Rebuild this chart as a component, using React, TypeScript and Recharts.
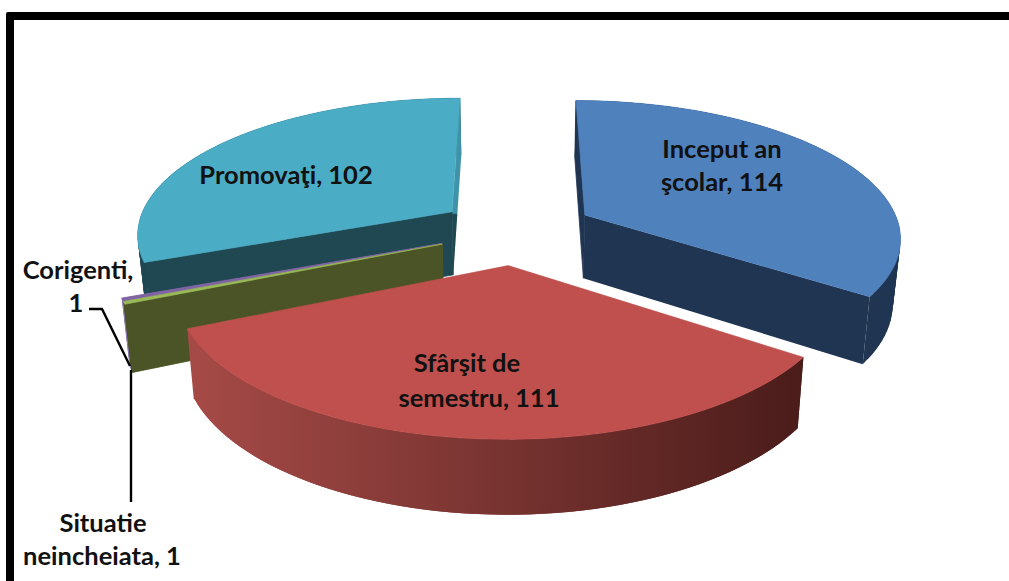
import { PieChart, Pie } from "recharts";

// drawn counter-clockwise from the top, so the paint order is back to front
const names = ["Promovaţi", "Corigenti", "Situatie neincheiata", "Sfârşit de semestru", "Inceput an şcolar"];
const values = [102, 1, 1, 111, 114];

const topColors = ["#4bacc6", "#8064a2", "#9bbb59", "#c0504d", "#4f81bd"];
const cutColors = ["#1f4852", "#8c78b0", "#4a5426", "none", "#1f3552"];
const rimColors = ["#1f4852", "#8c78b0", "#4a5426", "url(#redWall)", "#1f3552"];
const backCutColors = ["url(#tealStrip)", "#8c78b0", "#4a5426", "none", "#1f3552"];

const labelLines = [
  ["Promovaţi, 102"],
  ["Corigenti,", "1"],
  ["Situatie", "neincheiata, 1"],
  ["Sfârşit de", "semestru, 111"],
  ["Inceput an", "şcolar, 114"],
];
const labelSpots = [
  [[286, 184]],
  [[78, 279], [76, 312]],
  [[103, 532], [102, 565]],
  [[467, 372], [479, 407]],
  [[722, 158], [722, 191]],
];
const leaderLines = ["", "89,309 102,309 130,366", "131,370 131,502", "", ""];

const tableData = names.map((name, i) => ({
  name,
  value: values[i],
  fill: topColors[i],
  cut: cutColors[i],
  rim: rimColors[i],
  backCut: backCutColors[i],
}));

// 3d look of the pie: flattening, perspective, explosion and thickness
const RAD = Math.PI / 180;
const TILT = 0.43;
const PERSPECTIVE = 0.15;
const EXPLODE = 0.25;
const DEPTH = 64;
const BOTTOM_X = 0.98;
const BOTTOM_Y = 1.055;

function Slice3D(props: any) {
  const { cx, cy, outerRadius: r, startAngle, endAngle, fill } = props;
  const cut = props.cut ?? props.payload?.cut;
  const rim = props.rim ?? props.payload?.rim;
  const backCut = props.backCut ?? props.payload?.backCut;
  const mid = ((startAngle + endAngle) / 2) * RAD;
  const ox = Math.cos(mid) * EXPLODE;
  const oy = Math.sin(mid) * EXPLODE;

  const project = (angle: number | null, bottom: boolean) => {
    const px = ox + (angle === null ? 0 : Math.cos(angle * RAD));
    const py = oy + (angle === null ? 0 : Math.sin(angle * RAD));
    const w = 1 + PERSPECTIVE * py;
    const sx = (r * px) / w;
    const sy = (r * TILT * py) / w;
    return bottom
      ? `${(cx + sx * BOTTOM_X).toFixed(1)},${(cy + DEPTH - sy * BOTTOM_Y).toFixed(1)}`
      : `${(cx + sx).toFixed(1)},${(cy - sy).toFixed(1)}`;
  };

  const arc: number[] = [];
  const steps = Math.max(2, Math.ceil((endAngle - startAngle) / 2));
  for (let i = 0; i <= steps; i++) arc.push(startAngle + ((endAngle - startAngle) * i) / steps);

  const top = [project(null, false), ...arc.map((a) => project(a, false))].join(" ");
  const face = (angle: number) =>
    [project(null, false), project(angle, false), project(angle, true), project(null, true)].join(" ");

  // wall goes quad by quad: one polygon folds over itself at the silhouette and leaves a hole.
  // each quad reaches two steps so that its edge lies on the one before and no seam shows
  return (
    <g>
      <g fill={rim}>
        {arc.slice(1).map((a, i) => {
          const from = arc[i];
          const to = arc[Math.min(i + 2, steps)];
          return <polygon key={a} points={[project(from, false), project(to, false), project(to, true), project(from, true)].join(" ")} />;
        })}
      </g>
      <polygon points={face(startAngle)} fill={backCut} />
      <polygon points={face(endAngle)} fill={cut} stroke={cut} strokeWidth={0.8} />
      <polygon points={top} fill={fill} stroke={fill} strokeWidth={0.6} />
    </g>
  );
}

function SliceLabel(props: any) {
  const { index } = props;
  return (
    <g>
      {leaderLines[index] && <polyline points={leaderLines[index]} fill="none" stroke="#000" strokeWidth={2.4} />}
      {labelLines[index].map((line, i) => (
        <text
          key={line}
          x={labelSpots[index][i][0]}
          y={labelSpots[index][i][1]}
          textAnchor="middle"
          fontFamily="Lato, sans-serif"
          fontWeight={700}
          fontSize={25.5}
          fill="#111"
        >
          {line}
        </text>
      ))}
    </g>
  );
}

export default function App() {
  return (
    <div style={{ position: "absolute", left: 0, top: 0, width: 1009, height: 581, overflow: "hidden", background: "#fff" }}>
      <div style={{ position: "absolute", left: 6, top: 12, width: 1200, height: 800, border: "8px solid #000", borderRadius: 2 }} />
      <div style={{ position: "absolute", left: 0, top: 0 }}>
        <PieChart width={1009} height={581} margin={{ top: 0, right: 0, bottom: 0, left: 0 }}>
          <defs>
            <linearGradient id="redWall" gradientUnits="userSpaceOnUse" x1="187" y1="0" x2="803" y2="0">
              <stop offset="0%" stopColor="#a64a47" />
              <stop offset="45%" stopColor="#7d3633" />
              <stop offset="100%" stopColor="#4a1c1a" />
            </linearGradient>
            <linearGradient id="tealStrip" x1="0" y1="0" x2="0" y2="1">
              <stop offset="65%" stopColor="#3f93a9" />
              <stop offset="66%" stopColor="#1f4852" />
            </linearGradient>
          </defs>
          <Pie
            data={tableData}
            dataKey="value"
            nameKey="name"
            cx={516}
            cy={230.5}
            innerRadius={0}
            outerRadius={316}
            startAngle={90}
            endAngle={450}
            stroke="none"
            shape={Slice3D}
            label={SliceLabel}
            labelLine={false}
            isAnimationActive={false}
          />
        </PieChart>
      </div>
    </div>
  );
}
